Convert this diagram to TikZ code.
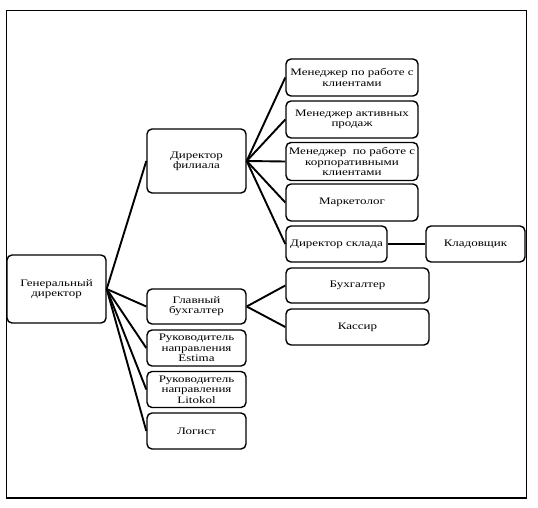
\documentclass[tikz,border=0pt]{standalone}
\usepackage{fontspec}
\setmainfont{Liberation Serif}[FakeStretch=1.3]
\usepackage{tikz}
\usetikzlibrary{positioning}

\tikzset{
    box/.style={draw=black, line width=1.4pt, rounded corners=5pt, fill=white,
                align=center, inner sep=1pt, font=\fontsize{10}{10.3}\selectfont},
    link/.style={line width=1.9pt}
}

\begin{document}
\begin{tikzpicture}[x=1pt, y=-1pt]
    \useasboundingbox (0,0) rectangle (538,508);
    \draw[line width=1.2pt] (6.5,10.3) rectangle (526.5,498);

    % top level
    \node[box, minimum width=99pt, minimum height=68pt] (gen) at (56.5,289) {Генеральный\\директор};

    % second level
    \node[box, minimum width=99pt, minimum height=64pt] (filial) at (196.5,161) {Директор\\филиала};
    \node[box, minimum width=99pt, minimum height=35pt] (glavbuh) at (196.5,306.5) {Главный\\бухгалтер};
    \node[box, minimum width=99pt, minimum height=36pt] (estima) at (196.5,348) {Руководитель\\направления\\Estima};
    \node[box, minimum width=99pt, minimum height=36pt] (litokol) at (196.5,389.5) {Руководитель\\направления\\Litokol};
    \node[box, minimum width=99pt, minimum height=36pt] (logist) at (196.5,431) {Логист};

    % branch staff
    \node[box, minimum width=132pt, minimum height=37pt] (klient) at (352,77.5) {Менеджер по работе с\\клиентами};
    \node[box, minimum width=132pt, minimum height=37pt] (prodazh) at (352,119.5) {Менеджер активных\\продаж};
    \node[box, minimum width=132pt, minimum height=38pt] (korp) at (352,161.5) {Менеджер\ \ по работе с\\корпоративными\\клиентами};
    \node[box, minimum width=132pt, minimum height=37pt] (market) at (352,202.5) {Маркетолог};
    \node[box, minimum width=101pt, minimum height=36pt] (sklad) at (336.5,244) {Директор склада};
    \node[box, minimum width=99pt, minimum height=36pt] (kladov) at (475.5,244) {Кладовщик};

    % accounting staff
    \node[box, minimum width=143pt, minimum height=35pt] (buh) at (357.5,285.5) {Бухгалтер};
    \node[box, minimum width=143pt, minimum height=36pt] (kassir) at (357.5,327) {Кассир};

    % connectors
    \foreach \n in {filial, glavbuh, estima, litokol, logist}
        \draw[link] (gen.east) -- (\n.west);
    \foreach \n in {klient, prodazh, korp, market, sklad}
        \draw[link] (filial.east) -- (\n.west);
    \draw[link] (sklad.east) -- (kladov.west);
    \draw[link] (glavbuh.east) -- (buh.west);
    \draw[link] (glavbuh.east) -- (kassir.west);
\end{tikzpicture}
\end{document}
